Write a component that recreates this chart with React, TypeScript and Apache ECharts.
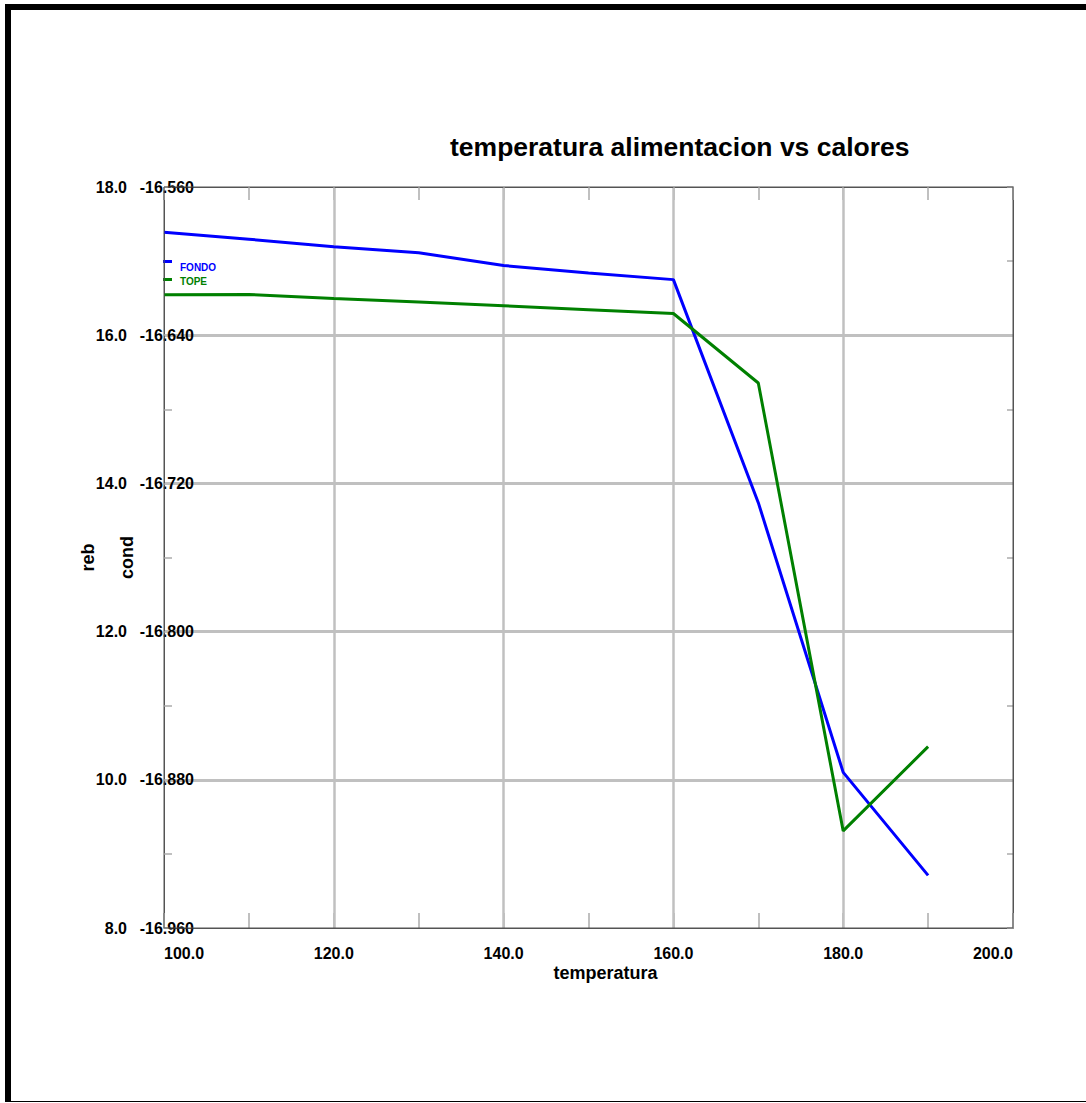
import React, { useEffect, useRef } from "react";
import * as echarts from "echarts";

const temps = [100, 110, 120, 130, 140, 150, 160, 170, 180, 190];
const fondo = [17.39, 17.295, 17.195, 17.113, 16.94, 16.84, 16.75, 13.74, 10.1, 8.71];
const tope = [-16.6182, -16.618, -16.6202, -16.6221, -16.6241, -16.6262, -16.6283, -16.6658, -16.9076, -16.8621];
const titleText = "temperatura alimentacion vs calores";
const xName = "temperatura";
const rebName = "reb";
const condName = "cond";

const FONT = 'Arial, "Liberation Sans", sans-serif';
const GRID_GREY = "#c0c0c0";

export default function App() {
  const ref = useRef<HTMLDivElement>(null);
  useEffect(() => {
    if (!ref.current) return;
    const chart = echarts.init(ref.current, null, { renderer: "svg" });
    const tickStyle = { color: GRID_GREY, width: 2 };
    chart.setOption({
      animation: false,
      backgroundColor: "#ffffff",
      textStyle: { fontFamily: FONT },
      title: {
        text: titleText,
        left: 450,
        top: 133,
        padding: 0,
        textStyle: { fontFamily: FONT, fontWeight: "bold", fontSize: 26.5, color: "#000" },
      },
      graphic: [
        { type: "rect", z: 100, shape: { x: 5, y: 4, width: 1081, height: 6 }, style: { fill: "#000" } },
        { type: "rect", z: 100, shape: { x: 5, y: 4, width: 6, height: 1098 }, style: { fill: "#000" } },
        { type: "rect", z: 100, shape: { x: 5, y: 1101, width: 1081, height: 1 }, style: { fill: "#000" } },
      ],
      legend: [
        {
          data: ["FONDO"],
          left: 163,
          top: 260,
          padding: 0,
          icon: "path://M0,0L9,0L9,3L0,3Z M0,14L0.01,14L0.01,14.01Z",
          itemWidth: 9,
          itemHeight: 14,
          selectedMode: false,
          textStyle: { fontFamily: FONT, fontWeight: "bold", fontSize: 10, color: "#0000ff", padding: [0, 0, 0, 3] },
        },
        {
          data: ["TOPE"],
          left: 163,
          top: 276,
          padding: 0,
          icon: "path://M0,0L9,0L9,3L0,3Z M0,6L0.01,6L0.01,6.01Z",
          itemWidth: 9,
          itemHeight: 6,
          selectedMode: false,
          textStyle: { fontFamily: FONT, fontWeight: "bold", fontSize: 10, color: "#008000", padding: [0, 0, 0, 3] },
        },
      ],
      grid: {
        left: 164,
        right: 73,
        top: 187,
        bottom: 175,
        show: true,
        borderColor: "#555555",
        borderWidth: 1,
        backgroundColor: "transparent",
        z: 5,
      },
      xAxis: [
        {
          type: "value",
          position: "bottom",
          min: 100,
          max: 200,
          interval: 20,
          name: xName,
          nameLocation: "middle",
          nameGap: 36,
          nameMoveOverlap: false,
          nameTextStyle: { fontFamily: FONT, fontWeight: "bold", fontSize: 18, color: "#000", padding: [0, 0, 0, 34] },
          axisLine: { show: true, lineStyle: { color: "#555555", width: 1 } },
          axisTick: { show: true, inside: true, length: 15, lineStyle: tickStyle },
          minorTick: { show: true, splitNumber: 2, length: 15, lineStyle: tickStyle },
          splitLine: { show: true, showMinLine: false, showMaxLine: false, lineStyle: { color: GRID_GREY, width: 2.5 } },
          axisLabel: {
            margin: 17,
            fontFamily: FONT,
            fontWeight: "bold",
            fontSize: 16,
            color: "#000",
            formatter: (v: number) => v.toFixed(1),
            alignMinLabel: "left",
            alignMaxLabel: "right",
          },
        },
        {
          type: "value",
          position: "top",
          min: 100,
          max: 200,
          interval: 10,
          axisLine: { show: true, lineStyle: { color: "#555555", width: 1 } },
          axisTick: { show: true, inside: true, length: 13, lineStyle: tickStyle },
          splitLine: { show: false },
          axisLabel: { show: false },
        },
      ],
      yAxis: [
        {
          type: "value",
          position: "left",
          min: 8,
          max: 18,
          interval: 2,
          name: rebName,
          nameLocation: "middle",
          nameRotate: 90,
          nameGap: 67,
          nameMoveOverlap: false,
          nameTextStyle: { fontFamily: FONT, fontWeight: "bold", fontSize: 18, color: "#000" },
          axisLine: { show: true, lineStyle: { color: "#555555", width: 1 } },
          axisTick: { show: true, inside: true, length: 8, lineStyle: tickStyle },
          minorTick: { show: true, splitNumber: 2, length: 8, lineStyle: tickStyle },
          splitLine: { show: true, showMinLine: false, showMaxLine: false, lineStyle: { color: GRID_GREY, width: 3 } },
          axisLabel: {
            margin: 37,
            fontFamily: FONT,
            fontWeight: "bold",
            fontSize: 16,
            color: "#000",
            formatter: (v: number) => v.toFixed(1),
          },
        },
        {
          type: "value",
          position: "left",
          offset: 0,
          min: -16.96,
          max: -16.56,
          interval: 0.08,
          name: condName,
          nameLocation: "middle",
          nameRotate: 90,
          nameGap: 28,
          nameMoveOverlap: false,
          nameTextStyle: { fontFamily: FONT, fontWeight: "bold", fontSize: 18, color: "#000" },
          axisLine: { show: false },
          axisTick: { show: false },
          splitLine: { show: false },
          axisLabel: {
            margin: -30,
            fontFamily: FONT,
            fontWeight: "bold",
            fontSize: 16,
            color: "#000",
            formatter: (v: number) => v.toFixed(3),
          },
        },
        {
          type: "value",
          position: "right",
          min: 8,
          max: 18,
          interval: 1,
          axisLine: { show: true, lineStyle: { color: "#555555", width: 1 } },
          axisTick: { show: true, inside: true, length: 6, lineStyle: tickStyle },
          splitLine: { show: false },
          axisLabel: { show: false },
        },
      ],
      series: [
        {
          name: "FONDO",
          type: "line",
          xAxisIndex: 0,
          yAxisIndex: 0,
          symbol: "none",
          color: "#0000ff",
          lineStyle: { color: "#0000ff", width: 3 },
          data: temps.map((t, i) => [t, fondo[i]]),
        },
        {
          name: "TOPE",
          type: "line",
          xAxisIndex: 0,
          yAxisIndex: 1,
          symbol: "none",
          color: "#008000",
          lineStyle: { color: "#008000", width: 3 },
          data: temps.map((t, i) => [t, tope[i]]),
        },
      ],
    });
    return () => chart.dispose();
  }, []);
  return (
    <div
      ref={ref}
      style={{ position: "fixed", left: 0, top: 0, width: 1086, height: 1103, background: "#fff" }}
    />
  );
}
